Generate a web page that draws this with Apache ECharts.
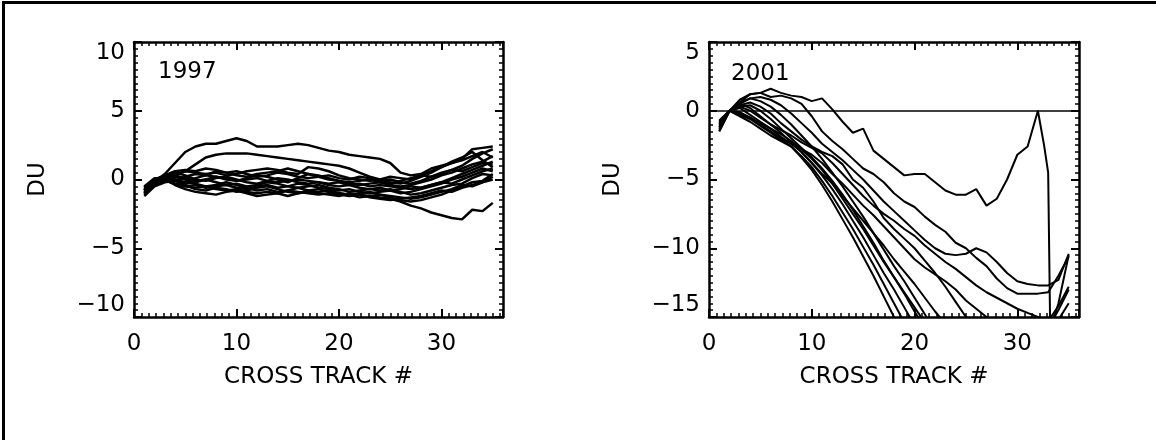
<!DOCTYPE html>
<html>
<head>
<meta charset="utf-8">
<script src="https://cdn.jsdelivr.net/npm/echarts@6/dist/echarts.min.js"></script>
<style>
  html, body { margin: 0; padding: 0; background: #fff; }
  #frame {
    position: absolute; left: 2px; top: 1px; width: 1160px; height: 445px;
    border-left: 3px solid #000; border-top: 3px solid #000;
  }
  #main { position: absolute; left: 0; top: 0; width: 1156px; height: 440px; }
</style>
</head>
<body>
<div id="frame"></div>
<div id="main"></div>
<script>
// cross track positions
const xs = [1, 2, 3, 4, 5, 6, 7, 8, 9, 10, 11, 12, 13, 14, 15, 16, 17, 18, 19, 20,
  21, 22, 23, 24, 25, 26, 27, 28, 29, 30, 31, 32, 33, 34, 35]

// 1997 curves (DU)
const y97_1 = [-0.8, -0.2, 0.4, 1.2, 2.0, 2.4, 2.6, 2.6, 2.8, 3.0, 2.8, 2.4, 2.4, 2.4, 2.5, 2.6, 2.5, 2.3, 2.1, 2.0, 1.8, 1.7, 1.6, 1.5, 1.2, 0.5, 0.3, 0.4, 0.8, 1.0, 1.2, 1.5, 2.2, 2.3, 2.4]
const y97_2 = [-0.7, -0.1, 0.2, 0.3, 0.6, 1.1, 1.6, 1.8, 1.9, 1.9, 1.9, 1.8, 1.7, 1.6, 1.5, 1.4, 1.3, 1.2, 1.1, 1.0, 0.8, 0.5, 0.2, 0.0, -0.2, -0.3, -0.1, 0.2, 0.5, 0.9, 1.2, 1.4, 1.7, 2.0, 1.6]
const y97_3 = [-1.0, -0.3, 0.0, -0.3, -0.5, -0.6, -0.5, -0.7, -0.8, -0.7, -0.9, -1.0, -0.9, -1.0, -0.8, -0.9, -1.0, -1.1, -1.0, -1.1, -1.2, -1.1, -1.2, -1.3, -1.4, -1.6, -1.9, -2.1, -2.4, -2.6, -2.8, -2.9, -2.2, -2.3, -1.7]
const y97_4 = [-0.9, -0.2, 0.1, 0.4, 0.6, 0.5, 0.4, 0.5, 0.3, 0.4, 0.6, 0.7, 0.8, 0.7, 0.5, 0.4, 0.9, 0.8, 0.6, 0.3, 0.1, 0.0, -0.1, 0.0, 0.2, 0.1, 0.0, 0.3, 0.6, 0.9, 1.3, 1.6, 2.0, 1.4, 0.9]
const y97_5 = [-0.6, 0.0, 0.2, 0.0, -0.2, 0.1, 0.3, 0.2, 0.0, -0.1, 0.1, 0.3, 0.2, 0.0, -0.2, 0.1, 0.4, 0.3, 0.1, -0.1, -0.3, -0.4, -0.3, -0.2, -0.4, -0.5, -0.4, -0.2, 0.0, 0.3, 0.5, 0.8, 1.1, 1.3, 1.7]
const y97_6 = [-1.1, -0.4, -0.1, -0.3, -0.5, -0.4, -0.6, -0.5, -0.4, -0.6, -0.7, -0.5, -0.4, -0.6, -0.5, -0.3, -0.4, -0.6, -0.7, -0.8, -0.7, -0.9, -1.0, -0.9, -0.8, -1.0, -0.9, -0.7, -0.5, -0.3, 0.0, 0.2, 0.5, 0.8, 0.6]
const y97_7 = [-0.8, -0.1, 0.3, 0.5, 0.3, 0.0, -0.1, 0.1, 0.2, 0.0, -0.2, -0.3, -0.1, 0.1, 0.0, -0.2, -0.3, -0.2, -0.4, -0.5, -0.4, -0.6, -0.7, -0.8, -0.7, -0.9, -1.1, -1.0, -0.8, -0.6, -0.4, -0.3, 0.1, 0.4, 0.3]
const y97_8 = [-0.5, 0.1, 0.0, -0.4, -0.7, -0.9, -1.0, -1.1, -0.9, -0.8, -1.0, -1.2, -1.1, -1.0, -1.2, -1.0, -0.9, -1.0, -1.1, -1.2, -1.0, -1.1, -1.3, -1.4, -1.5, -1.4, -1.3, -1.2, -1.0, -0.8, -0.9, -0.6, -0.4, -0.2, 0.0]
const y97_9 = [-1.2, -0.5, -0.2, -0.1, 0.2, 0.4, 0.3, 0.6, 0.5, 0.3, 0.2, 0.4, 0.5, 0.6, 0.8, 0.6, 0.4, 0.2, 0.0, -0.1, -0.2, -0.1, 0.0, -0.2, -0.3, -0.1, 0.1, 0.3, 0.2, 0.5, 0.7, 0.6, 0.9, 1.2, 1.1]
const y97_10 = [-0.7, -0.2, 0.2, 0.0, -0.3, -0.2, 0.0, -0.2, -0.4, -0.3, -0.5, -0.4, -0.2, -0.3, -0.5, -0.6, -0.5, -0.4, -0.6, -0.7, -0.9, -0.8, -0.7, -0.6, -0.8, -0.7, -0.5, -0.6, -0.4, -0.2, -0.3, 0.0, 0.3, 0.6, 0.8]
const y97_11 = [-0.9, -0.3, 0.0, 0.2, 0.0, -0.3, -0.5, -0.4, -0.2, -0.4, -0.6, -0.8, -0.7, -0.9, -0.8, -0.6, -0.8, -0.9, -0.8, -1.0, -1.1, -1.3, -1.2, -1.1, -1.3, -1.5, -1.6, -1.5, -1.3, -1.1, -0.8, -0.5, -0.2, -0.1, 0.4]
const y97_12 = [-0.6, 0.0, 0.3, 0.6, 0.7, 0.6, 0.8, 0.7, 0.5, 0.6, 0.4, 0.2, 0.3, 0.5, 0.4, 0.2, 0.1, 0.2, 0.3, 0.1, 0.0, 0.2, 0.1, -0.1, 0.0, -0.2, -0.3, -0.1, 0.2, 0.4, 0.7, 1.0, 1.5, 1.9, 2.2]
const y97_13 = [-1.0, -0.4, 0.1, -0.1, -0.4, -0.7, -0.8, -0.6, -0.7, -0.9, -0.8, -0.6, -0.5, -0.7, -0.9, -1.0, -0.8, -0.7, -0.9, -1.0, -1.1, -1.0, -0.9, -1.1, -1.2, -1.3, -1.4, -1.3, -1.1, -0.9, -0.7, -0.4, -0.5, -0.2, 0.2]
const y97_14 = [-0.8, -0.2, 0.1, 0.3, 0.1, -0.1, 0.0, 0.2, 0.1, -0.1, 0.0, 0.1, -0.1, -0.2, -0.1, 0.0, -0.1, -0.2, -0.3, -0.2, -0.4, -0.3, -0.5, -0.4, -0.5, -0.6, -0.7, -0.6, -0.4, -0.2, 0.1, 0.4, 0.7, 1.0, 1.3]

// 2001 curves (DU); the odd one has its own x positions
const x01_a = [1, 2, 3, 4, 5, 6, 7, 8, 9, 10, 11, 12, 13, 14, 15, 16, 17, 18, 19, 20,
  21, 22, 23, 24, 25, 26, 27, 28, 29, 30, 31, 32, 32.6, 33, 33.2, 34, 35]
const y01_a = [-1.5, 0.0, 0.6, 1.2, 1.3, 1.6, 1.3, 1.1, 1.0, 0.7, 0.9, 0.1, -0.8, -1.6, -1.3, -2.9, -3.5, -4.1, -4.7, -4.6, -4.6, -5.2, -5.8, -6.1, -6.1, -5.7, -6.9, -6.4, -5.0, -3.2, -2.6, 0.0, -2.5, -4.5, -16, -14, -10.5]
const y01_b = [-1.2, 0.0, 0.8, 1.2, 1.3, 1.0, 1.1, 0.9, 0.5, -0.4, -1.5, -2.2, -2.8, -3.5, -4.2, -4.6, -5.2, -6.0, -6.6, -7.0, -7.7, -8.3, -8.8, -9.6, -10.0, -10.7, -11.3, -12.2, -12.9, -13.3, -13.3, -13.3, -13.2, -12.0, -10.6]
const y01_c = [-1.0, 0.0, 0.5, 0.9, 1.0, 0.8, 0.4, -0.2, -0.9, -1.6, -2.4, -3.0, -3.6, -4.3, -5.0, -5.8, -6.6, -7.3, -8.0, -8.7, -9.4, -10.0, -10.4, -10.5, -10.4, -10.0, -10.3, -11.0, -11.8, -12.4, -12.6, -12.7, -12.7, -12.3, -10.4]
const y01_d = [-0.8, 0.0, 0.3, 0.0, -0.5, -1.0, -1.4, -1.8, -2.3, -2.7, -3.1, -3.8, -4.6, -5.4, -6.2, -6.9, -7.5, -8.0, -8.6, -9.1, -9.8, -10.4, -11.0, -11.5, -12.1, -12.7, -13.2, -13.6, -14.0, -14.4, -14.7, -15.0, -15.3, -14.2, -12.8]
const y01_e = [-1.3, 0.0, 0.2, -0.3, -0.8, -1.3, -1.9, -2.4, -2.8, -3.2, -3.8, -4.6, -5.3, -6.1, -6.9, -7.6, -8.4, -9.2, -10.0, -10.8, -11.4, -11.9, -12.4, -13.0, -13.8, -14.4, -15.0, -15.6, -16.0, -16.5, -16.5, -16.2, -15.8, -14.5, -13.0]
const y01_f = [-1.1, 0.0, -0.2, -0.5, -1.0, -1.5, -2.0, -2.4, -3.0, -3.8, -4.6, -5.3, -6.2, -7.1, -8.0, -8.9, -9.8, -10.8, -11.7, -12.6, -13.6, -14.6, -15.5, -16.5, -16.5, -16.5, -16.5, -16.5, -16.5, -16.5, -16.5, -16.5, -16.0, -15.2, -14.0]
const y01_g = [-0.9, 0.0, 0.4, 0.6, 0.3, -0.2, -0.9, -1.5, -2.1, -2.6, -3.0, -3.3, -3.9, -5.0, -5.6, -6.6, -7.8, -8.6, -9.3, -10.0, -10.9, -11.8, -12.8, -13.9, -15.0, -16.0]
const y01_h = [-1.4, 0.0, -0.4, -0.8, -1.3, -1.8, -2.2, -2.6, -3.4, -4.3, -5.4, -6.6, -7.9, -9.2, -10.6, -12.0, -13.5, -15.0, -16.5]
const y01_i = [-1.0, 0.0, -0.3, -0.6, -1.1, -1.6, -2.1, -2.6, -3.3, -4.1, -5.1, -6.2, -7.4, -8.6, -9.9, -11.2, -12.6, -14.0, -15.4]
const y01_j = [-0.7, 0.0, 0.5, 0.2, -0.4, -1.0, -1.6, -2.3, -3.0, -3.8, -4.7, -5.7, -6.8, -8.0, -9.2, -10.5, -11.8, -13.0, -14.3, -15.6]
const y01_k = [-1.2, 0.0, 0.3, 0.4, 0.0, -0.6, -1.3, -2.0, -2.7, -3.4, -4.2, -5.1, -6.1, -7.2, -8.4, -9.6, -10.9, -12.1, -13.3, -14.6, -15.8]
const y01_l = [-0.8, 0.0, -0.1, -0.5, -0.9, -1.3, -1.7, -2.2, -2.8, -3.5, -4.3, -5.3, -6.4, -7.5, -8.6, -9.8, -11.0, -12.1, -13.2, -14.3, -15.4]
const y01_m = [-1.5, 0.0, 0.6, 0.9, 0.7, 0.3, -0.3, -1.0, -1.8, -2.6, -3.5, -4.5, -5.5, -6.6, -7.7, -8.9, -10.1, -11.3, -12.4, -13.6, -14.8, -16.0]

const curves97 = [y97_1, y97_2, y97_3, y97_4, y97_5, y97_6, y97_7, y97_8, y97_9, y97_10, y97_11, y97_12, y97_13, y97_14]
const curves01 = [y01_b, y01_c, y01_d, y01_e, y01_f, y01_g, y01_h, y01_i, y01_j, y01_k, y01_l, y01_m]

const xRange = [0, 36]
const yRange97 = [-10, 10]
const yRange01 = [-15, 5]

const FONT = 'DejaVu Sans'

const pairs = (x, y) => y.map((v, i) => [x[i], v])
const minus = v => String(v).replace('-', '\u2212')

const frameLine = {show: true, onZero: false, lineStyle: {color: '#000', width: 2.5}}

const makeX = (grid, bottom) => ({
  type: 'value', gridIndex: grid, position: bottom ? 'bottom' : 'top',
  min: xRange[0], max: xRange[1], interval: 10,
  axisLine: frameLine,
  axisTick: {show: true, inside: true, length: 8, lineStyle: {color: '#000', width: 2}},
  minorTick: {show: true, splitNumber: 14, length: 4, lineStyle: {color: '#000', width: 1.5}},
  splitLine: {show: false},
  axisLabel: {show: bottom, showMaxLabel: false, color: '#000', fontFamily: FONT, fontSize: 23, margin: 16},
  name: bottom ? 'CROSS TRACK #' : '',
  nameLocation: 'middle', nameGap: 49,
  nameTextStyle: {color: '#000', fontFamily: FONT, fontSize: 23}
})

const makeY = (grid, left, range) => ({
  type: 'value', gridIndex: grid, position: left ? 'left' : 'right',
  min: range[0], max: range[1], interval: 5,
  axisLine: frameLine,
  axisTick: {show: true, inside: true, length: 8, lineStyle: {color: '#000', width: 2}},
  minorTick: {show: true, splitNumber: 10, length: 4, lineStyle: {color: '#000', width: 1.5}},
  splitLine: {show: false},
  axisLabel: {
    show: left, color: '#000', fontFamily: FONT, fontSize: 23, margin: 9,
    formatter: minus,
    verticalAlignMaxLabel: 'top', verticalAlignMinLabel: 'bottom'
  },
  name: left ? 'DU' : '',
  nameLocation: 'middle', nameGap: 84, nameRotate: 90,
  nameTextStyle: {color: '#000', fontFamily: FONT, fontSize: 23}
})

const lineSeries = (data, xi, yi, w) => ({
  type: 'line', xAxisIndex: xi, yAxisIndex: yi, data: data,
  showSymbol: false, symbol: 'none', clip: true,
  lineStyle: {color: '#000', width: w}
})

const series = []
curves97.forEach(c => series.push(lineSeries(pairs(xs, c), 0, 0, 2.5)))
const special = lineSeries(pairs(x01_a, y01_a), 2, 2, 2)
special.markLine = {
  silent: true, symbol: 'none', label: {show: false},
  lineStyle: {color: '#000', width: 1.5, type: 'solid'},
  data: [{yAxis: 0}]
}
series.push(special)
curves01.forEach(c => series.push(lineSeries(pairs(xs, c), 2, 2, 2)))

const chart = echarts.init(document.getElementById('main'), null, {renderer: 'canvas'})
chart.setOption({
  animation: false,
  backgroundColor: 'transparent',
  grid: [
    {left: 134, top: 42, width: 369, height: 275},
    {left: 709, top: 42, width: 370, height: 275}
  ],
  xAxis: [makeX(0, true), makeX(0, false), makeX(1, true), makeX(1, false)],
  yAxis: [makeY(0, true, yRange97), makeY(0, false, yRange97),
    makeY(1, true, yRange01), makeY(1, false, yRange01)],
  graphic: [
    {type: 'text', left: 158, top: 61, style: {text: '1997', fill: '#000', font: '23px "DejaVu Sans"'}},
    {type: 'text', left: 731, top: 63, style: {text: '2001', fill: '#000', font: '23px "DejaVu Sans"'}}
  ],
  series: series
})
</script>
</body>
</html>
